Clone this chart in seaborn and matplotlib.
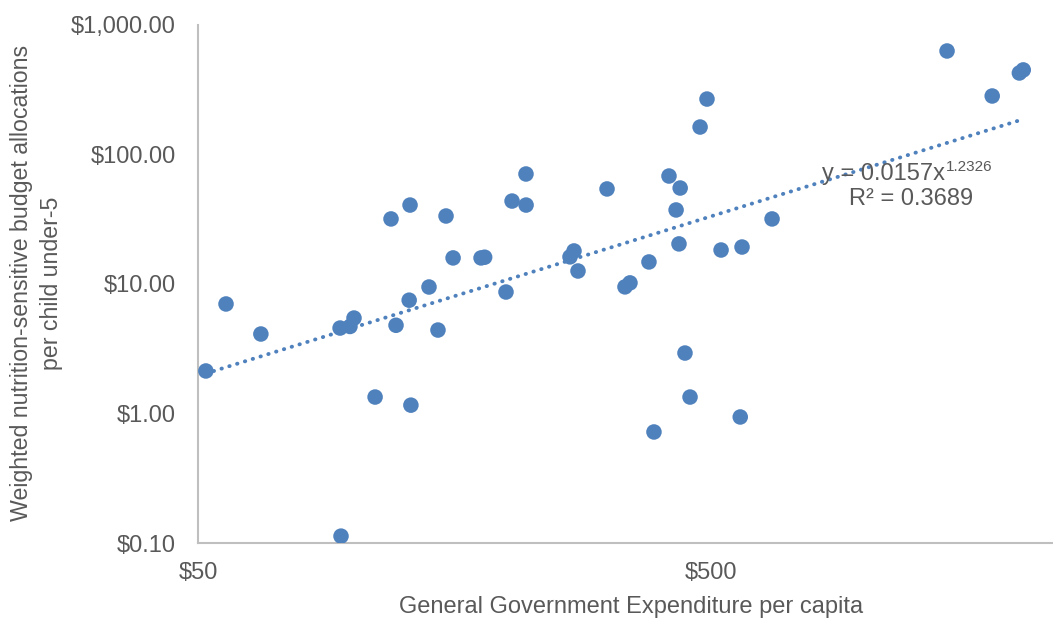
import numpy as np
import pandas as pd
import matplotlib
matplotlib.use("Agg")
import matplotlib.pyplot as plt
import seaborn as sns
from matplotlib.ticker import FixedLocator, NullLocator, FixedFormatter

# General government expenditure per capita (US$) for each country
gge_per_capita = [
    51.8, 56.7, 66.3, 94.6, 98.9, 100.7, 95.0, 110.7, 118.9, 121.6,
    129.5, 129.0, 130.0, 141.0, 146.8, 152.2, 157.1, 178.1, 181.0, 199.2,
    204.7, 217.9, 218.0, 265.5, 270.3, 275.2, 313.5, 339.8, 347.5, 378.4,
    387.0, 414.0, 427.4, 435.3, 433.0, 444.8, 455.0, 476.0, 491.0, 523.0,
    570.0, 574.6, 657.5, 1442.0, 1766.0, 1995.0, 2030.0,
]
# Weighted nutrition-sensitive budget allocations per child under-5 (US$)
allocation_per_child = [
    2.13, 7.01, 4.11, 4.57, 4.70, 5.46, 0.113, 1.34, 31.8, 4.80,
    40.7, 7.50, 1.16, 9.48, 4.41, 33.5, 15.9, 15.9, 16.1, 8.67,
    43.7, 70.7, 40.7, 16.2, 18.0, 12.6, 54.2, 9.50, 10.2, 14.8,
    0.72, 68.2, 37.3, 55.1, 20.4, 2.93, 1.34, 163.0, 268.0, 18.3,
    0.94, 19.3, 31.8, 630.0, 283.0, 426.0, 450.0,
]

# Power trendline y = a * x^b
trend_a = 0.0157
trend_b = 1.2326
trend_r2 = 0.3689

y_ticks = [0.1, 1, 10, 100, 1000]
y_tick_labels = ["$0.10", "$1.00", "$10.00", "$100.00", "$1,000.00"]
x_ticks = [50, 500]
x_tick_labels = ["$50", "$500"]

df = pd.DataFrame({"gge": gge_per_capita, "alloc": allocation_per_child})

sns.set_style("white")
plt.rcParams["font.family"] = ["Liberation Sans", "DejaVu Sans"]

blue = "#4F81BD"
grey_text = "#595959"
axis_grey = "#BFBFBF"

fig = plt.figure(figsize=(10.53, 6.18), dpi=100)
ax = fig.add_axes([198 / 1053, 1 - 543 / 618, 1 - 198 / 1053, (543 - 25) / 618])

sns.scatterplot(data=df, x="gge", y="alloc", ax=ax, color=blue, s=125,
                edgecolor="none", linewidth=0, zorder=3)

xs = np.geomspace(df["gge"].min(), df["gge"].max(), 200)
ax.plot(xs, trend_a * xs ** trend_b, color=blue, lw=2.8,
        linestyle=(0, (0.1, 2.0)), dash_capstyle="round", zorder=4)

ax.set_xscale("log")
ax.set_yscale("log")
ax.set_xlim(50, 2320)
ax.set_ylim(0.1, 1000)

ax.xaxis.set_major_locator(FixedLocator(x_ticks))
ax.xaxis.set_major_formatter(FixedFormatter(x_tick_labels))
ax.xaxis.set_minor_locator(NullLocator())
ax.yaxis.set_major_locator(FixedLocator(y_ticks))
ax.yaxis.set_major_formatter(FixedFormatter(y_tick_labels))
ax.yaxis.set_minor_locator(NullLocator())

ax.tick_params(axis="both", length=0, labelsize=17, labelcolor=grey_text)
ax.tick_params(axis="y", pad=16)
ax.tick_params(axis="x", pad=14)

for side in ["top", "right"]:
    ax.spines[side].set_visible(False)
for side in ["left", "bottom"]:
    ax.spines[side].set_color(axis_grey)
    ax.spines[side].set_linewidth(1.5)

ax.set_xlabel("General Government Expenditure per capita", fontsize=17,
              color=grey_text)
ax.xaxis.set_label_coords(0.506, -0.102)
ax.set_ylabel("Weighted nutrition-sensitive budget allocations\nper child under-5",
              fontsize=16.7, color=grey_text, linespacing=1.38)
ax.yaxis.set_label_coords(-0.158, 0.502)

# Trendline equation with a smaller raised exponent, and the R² value
eq_text = ax.text(824, 64.1, f"y = {trend_a}x", fontsize=17, color=grey_text,
                  ha="left", va="baseline", zorder=5)
ax.annotate(f"{trend_b}", xy=(1, 0), xycoords=eq_text, xytext=(0.5, 9.8),
            textcoords="offset points", fontsize=11, color=grey_text,
            ha="left", va="baseline", zorder=5)
ax.text(929, 40.7, f"R² = {trend_r2}", fontsize=17, color=grey_text,
        ha="left", va="baseline", zorder=5)

fig.savefig("out.png", dpi=100)
